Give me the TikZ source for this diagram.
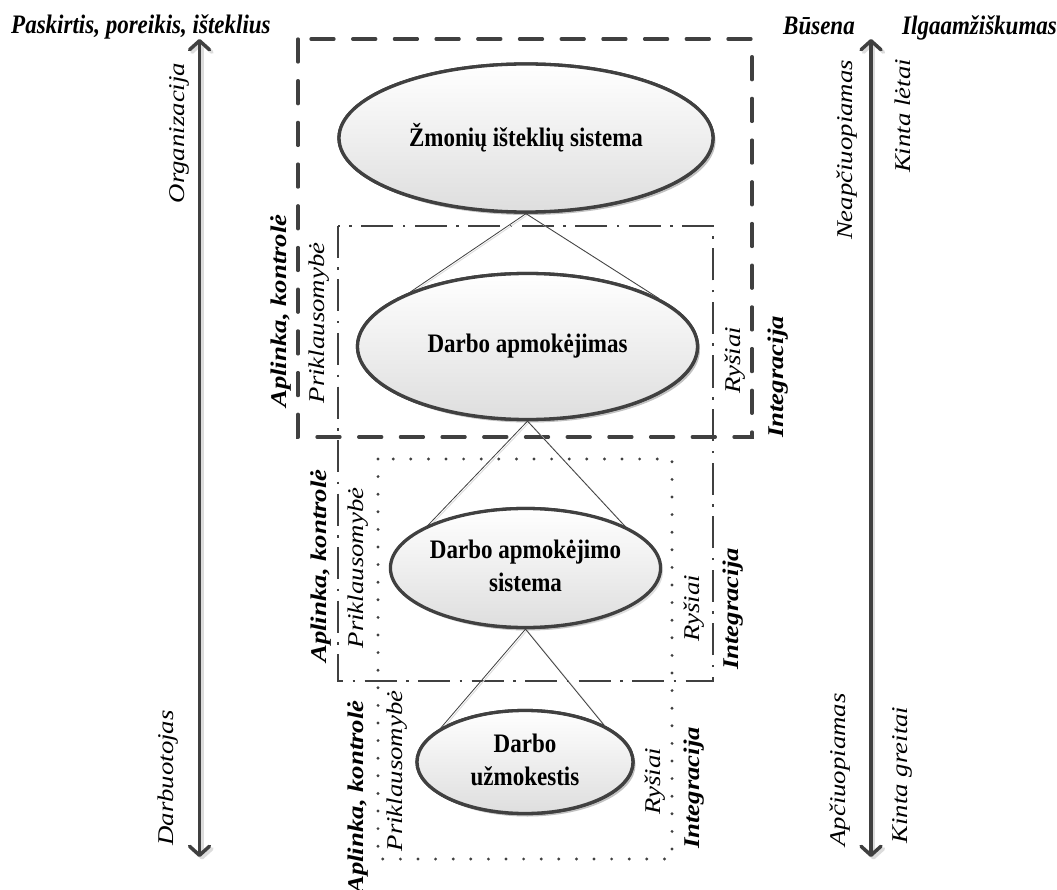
\documentclass[tikz,border=0pt]{standalone}
\usepackage{fontspec}
\usepackage{graphicx}
\setmainfont{Liberation Serif}
\usetikzlibrary{arrows.meta,shapes.geometric,shadows}
\definecolor{lc}{HTML}{404040}
\definecolor{shc}{HTML}{DCDCDC}
\newcommand{\hstr}[1]{\scalebox{1}[1.16]{#1}}
\newcommand{\vstr}[1]{\scalebox{1.19}[1]{#1}}
\newcommand{\twoline}[2]{\hstr{\begin{tabular}{@{}c@{}}#1\\#2\end{tabular}}}
\tikzset{
  ell/.style={ellipse, draw=lc, line width=3.3pt, inner sep=0pt, top color=white, bottom color=black!13,
    align=center, font=\fontsize{23}{28.5}\selectfont\bfseries,
    drop shadow={shadow xshift=2.5pt, shadow yshift=-3pt, fill=black, opacity=0.13}},
  conn/.style={draw=lc, line width=0.8pt},
  connsh/.style={draw=shc, line width=0.9pt, transform canvas={xshift=1.6pt, yshift=-1.2pt}},
  bigdash/.style={draw=lc, line width=3.3pt, line cap=round, dash pattern=on 23pt off 18.7pt},
  dashdot/.style={draw=lc, line width=2.3pt, dash pattern=on 32pt off 9.5pt on 2.5pt off 9.5pt},
  dotbox/.style={draw=lc, line width=3.2pt, line cap=round, dash pattern=on 0pt off 17.6pt},
  axis/.style={draw=lc, line width=3.5pt, {Straight Barb[length=9pt,width=20pt,round]}-{Straight Barb[length=9pt,width=20pt,round]}},
  axissh/.style={draw=shc, line width=3.5pt, transform canvas={xshift=2.5pt, yshift=-2.5pt}, {Straight Barb[length=9pt,width=20pt,round]}-{Straight Barb[length=9pt,width=20pt,round]}},
  lab/.style={font=\fontsize{22.5}{27}\selectfont\itshape, rotate=90, inner sep=0pt},
  blab/.style={font=\fontsize{22.5}{27}\selectfont\bfseries\itshape, rotate=90, inner sep=0pt},
  toplab/.style={font=\fontsize{23}{27}\selectfont\bfseries\itshape, inner sep=0pt, anchor=base west},
}
\begin{document}
\begin{tikzpicture}[x=1pt,y=-1pt]
\useasboundingbox[fill=white] (0,0) rectangle (1057,890);

% axes
\coordinate (la1) at (199.5,39);
\coordinate (la2) at (199.5,857);
\coordinate (ra1) at (871,39);
\coordinate (ra2) at (871,857);
\draw[axissh] (la1) -- (la2);
\draw[axissh] (ra1) -- (ra2);
\draw[axis] (la1) -- (la2);
\draw[axis] (ra1) -- (ra2);

% boxes
\draw[bigdash] (298,39) rectangle (752,437);
\draw[dashdot] (338,226) rectangle (713,681);
\draw[dotbox] (378,459) rectangle (672,859);

% ellipses (positions)
\path (526,138) node[ell, minimum width=374pt, minimum height=148pt] (e1) {};
\path (527.5,346.5) node[ell, minimum width=340pt, minimum height=146pt] (e2) {};
\path (525.5,568) node[ell, minimum width=256pt, minimum height=119pt] (e3) {};
\path (525,762) node[ell, minimum width=216pt, minimum height=103pt] (e4) {};

% connectors
\draw[connsh] (e1.south) -- (e2.155);
\draw[connsh] (e1.south) -- (e2.20);
\draw[connsh] (e2.south) -- (e3.160);
\draw[connsh] (e2.south) -- (e3.19);
\draw[connsh] (e3.south) -- (e4.158);
\draw[connsh] (e3.south) -- (e4.25);
\draw[conn] (e1.south) -- (e2.155);
\draw[conn] (e1.south) -- (e2.20);
\draw[conn] (e2.south) -- (e3.160);
\draw[conn] (e2.south) -- (e3.19);
\draw[conn] (e3.south) -- (e4.158);
\draw[conn] (e3.south) -- (e4.25);

% ellipses drawn on top of connectors, with their texts
\path (526,138) node[ell, minimum width=374pt, minimum height=148pt] (e1b) {\hstr{Žmonių išteklių sistema}};
\path (527.5,346.5) node[ell, minimum width=340pt, minimum height=146pt] (e2b) {\hstr{Darbo apmokėjimas}};
\path (525.5,568) node[ell, minimum width=256pt, minimum height=119pt] (e3b) {\twoline{Darbo apmokėjimo}{sistema}};
\path (525,762) node[ell, minimum width=216pt, minimum height=103pt] (e4b) {\twoline{Darbo}{užmokestis}};

% top labels
\node[toplab] (t1) at (11,34) {\hstr{Paskirtis, poreikis, išteklius}};
\node[toplab] (t2) at (783,35) {\hstr{Būsena}};
\node[toplab] (t3) at (902,35) {\hstr{Ilgaamžiškumas}};

% axis labels
\node[lab] (org) at (179,133) {\vstr{Organizacija}};
\node[lab] (darb) at (168,778) {\vstr{Darbuotojas}};
\node[lab] (neap) at (847,150) {\vstr{Neapčiuopiamas}};
\node[lab] (kl) at (903,116) {\vstr{Kinta lėtai}};
\node[lab] (apc) at (840,770) {\vstr{Apčiuopiamas}};
\node[lab] (kg) at (902,775) {\vstr{Kinta greitai}};

% box labels
\node[blab] (ak1) at (281,311) {\vstr{Aplinka,\ kontrolė}};
\node[blab] (ak2) at (321,566) {\vstr{Aplinka,\ kontrolė}};
\node[blab] (ak3) at (358,797) {\vstr{Aplinka,\ kontrolė}};
\node[lab] (pr1) at (319,323) {\vstr{Priklausomybė}};
\node[lab] (pr2) at (358,568) {\vstr{Priklausomybė}};
\node[lab] (pr3) at (397,771) {\vstr{Priklausomybė}};
\node[lab] (ry1) at (735,360) {\vstr{Ryšiai}};
\node[lab] (ry2) at (694,608) {\vstr{Ryšiai}};
\node[lab] (ry3) at (655,781) {\vstr{Ryšiai}};
\node[blab] (in1) at (778,377) {\vstr{Integracija}};
\node[blab] (in2) at (733,609) {\vstr{Integracija}};
\node[blab] (in3) at (694,788) {\vstr{Integracija}};
\end{tikzpicture}
\end{document}
